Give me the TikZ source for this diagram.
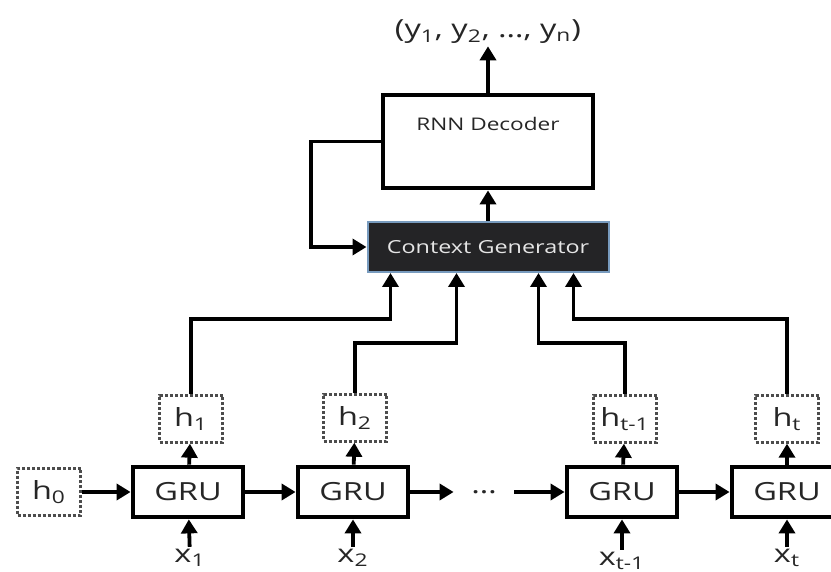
\documentclass[tikz,border=0pt]{standalone}
\usepackage{fontspec}
\setmainfont{Open Sans}[FakeStretch=1.3]
\usetikzlibrary{arrows.meta}
\definecolor{ctxfill}{RGB}{36,36,38}
\definecolor{ctxline}{RGB}{120,155,190}
\begin{document}
\begin{tikzpicture}[
  x=0.5pt, y=-0.5pt,
  gru/.style={rectangle, draw, line width=2.4pt, minimum width=55pt, minimum height=25pt, inner sep=0pt, text=black!85, font=\fontsize{12.5}{14}\selectfont},
  hid/.style={rectangle, draw=black!70, dash pattern=on 1.5pt off 1pt, line width=1.2pt, minimum width=31.5pt, minimum height=23.5pt, inner sep=0pt, text=black!85, font=\fontsize{12.5}{14}\selectfont},
  lbl/.style={inner sep=1pt, text=black!85, font=\fontsize{12.5}{14}\selectfont},
  conn/.style={line width=1.9pt, -{Triangle[length=7pt,width=8pt]}},
]
  \useasboundingbox (0,0) rectangle (831,572);

  \node[lbl] (out) at (488,32) {(y\textsubscript{1}, y\textsubscript{2}, \dots, y\textsubscript{n})};
  \node[rectangle, draw, line width=2.4pt, minimum width=105pt, minimum height=46.5pt,
        label={[yshift=8.75pt, text=black!85, font=\fontsize{8.7}{10}\selectfont]center:RNN Decoder}] (dec) at (488,141.5) {};
  \node[rectangle, draw=ctxline, fill=ctxfill, line width=1pt, minimum width=120.5pt, minimum height=25pt,
        text=black!10, font=\fontsize{9}{10}\selectfont] (ctx) at (488,247) {Context Generator};

  \node[hid] (h0) at (49,492) {h\textsubscript{0}};
  \node[gru] (g1) at (188,492) {GRU};
  \node[gru] (g2) at (353,492) {GRU};
  \node[lbl, minimum width=30pt] (dots) at (484,492) {\dots};
  \node[gru] (g3) at (622,492) {GRU};
  \node[gru] (g4) at (787,492) {GRU};

  \node[hid] (h1) at (191,419) {h\textsubscript{1}};
  \node[hid] (h2) at (355,418) {h\textsubscript{2}};
  \node[hid] (htm) at (625,419) {h\textsubscript{t-1}};
  \node[hid] (ht) at (787,419) {h\textsubscript{t}};

  \node[lbl] (x1) at (190,558) {x\textsubscript{1}};
  \node[lbl] (x2) at (353,558) {x\textsubscript{2}};
  \node[lbl] (xtm) at (622,561) {x\textsubscript{t-1}};
  \node[lbl] (xt) at (787,558) {x\textsubscript{t}};

  % recurrent chain
  \draw[conn] (h0) -- (g1);
  \draw[conn] (g1) -- (g2);
  \draw[conn] (g2) -- (dots);
  \draw[conn] (dots) -- (g3);
  \draw[conn] (g3) -- (g4);

  \draw[conn] (x1) -- (g1);
  \draw[conn] (x2) -- (g2);
  \draw[conn] (xtm) -- (g3);
  \draw[conn] (xt) -- (g4);

  \draw[conn] (g1) -- (h1);
  \draw[conn] (g2) -- (h2);
  \draw[conn] (g3) -- (htm);
  \draw[conn] (g4) -- (ht);

  % hidden states to context
  \draw[conn] (h1.north) -- (h1.north |- 0,319) -| ([xshift=12pt]ctx.south west);
  \draw[conn] (h2.north) -- (h2.north |- 0,343) -| ([xshift=45pt]ctx.south west);
  \draw[conn] (htm.north) -- (htm.north |- 0,343) -| ([xshift=-35.5pt]ctx.south east);
  \draw[conn] (ht.north) -- (ht.north |- 0,319) -| ([xshift=-18pt]ctx.south east);

  % decoder
  \draw[conn] (ctx) -- (dec);
  \draw[conn] (dec.west) -- ++(-70,0) |- (ctx.west);
  \draw[conn] (dec) -- (out);
\end{tikzpicture}
\end{document}
